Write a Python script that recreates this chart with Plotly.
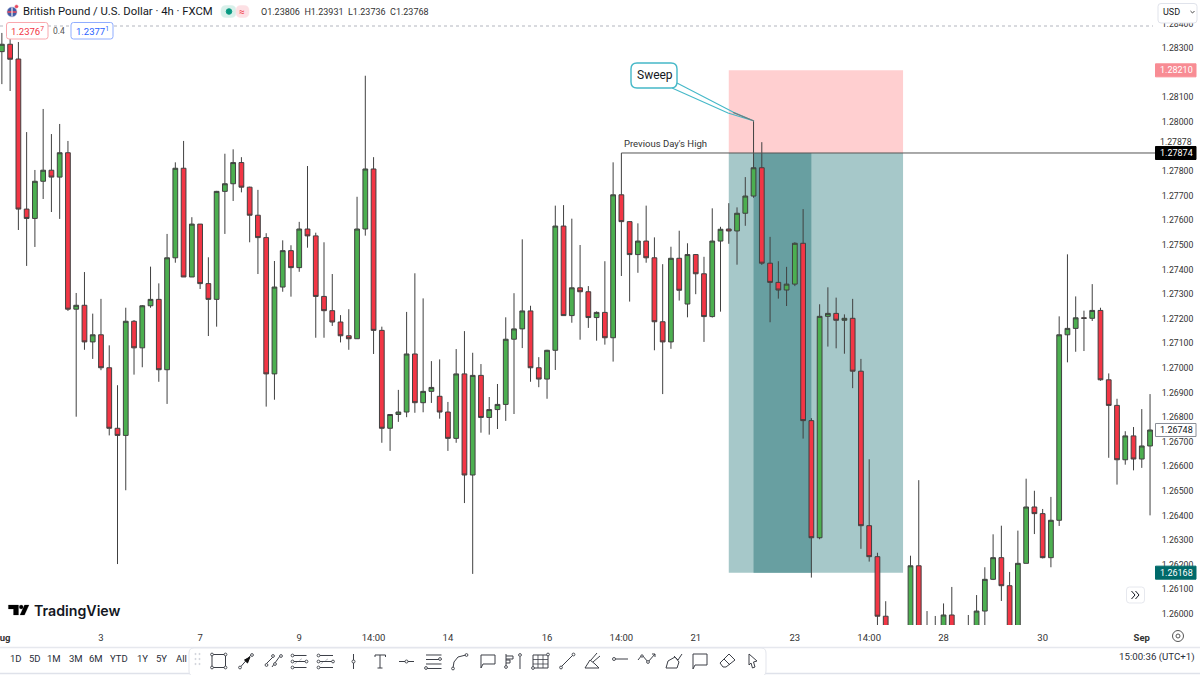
import plotly.graph_objects as go

# Prices in points (1 point = 0.00001)
SCALE = 1e-5
open_pts = [128286,128316,128256,127646,127608,127759,127804,127776,127875,127239,127255,127106,127135,127001,126755,126726,127190,127082,127253,127279,
126993,127448,127812,127370,127585,127343,127279,127718,127749,127835,127735,127621,127530,126976,127329,127477,127408,127565,127537,127291,
127233,127187,127131,127119,127565,127809,127153,126755,126811,126821,127057,126859,126905,126885,126821,126714,126976,126565,126970,126799,
126831,126852,127117,127159,127232,127001,126955,127072,127577,127213,127326,127310,127205,127226,127123,127704,127595,127461,127516,127448,
127188,127106,127446,127260,127461,127383,127209,127516,127565,127557,127629,127699,127814,127426,127348,127317,127341,127507,126786,126310,
127210,127222,127194,127202,126987,126359,126233,125991,125900,125880,125870,126196,125880,125870,125900,125996,125890,125900,125910,126012,
126141,126229,126115,125900,126206,126435,126408,126229,126381,127135,127161,127204,127202,127234,126952,126848,126627,126724,126630,126683]
high_pts = [128362,128337,128325,127959,127805,128053,127951,127992,127923,127305,127390,127221,127281,127092,126930,127245,127195,127256,127412,127344,
127545,127836,127923,127613,127585,127450,127720,127871,127889,127857,127737,127724,127548,127435,127519,127499,127594,127821,127550,127511,
127382,127215,127239,127696,128188,127857,127168,126813,126911,127228,127385,127283,127028,127035,126862,127077,127150,127062,127016,126882,
126935,127206,127304,127523,127253,127044,127074,127660,127662,127607,127500,127333,127230,127434,127836,127874,127597,127588,127660,127531,
127422,127493,127558,127507,127463,127452,127649,127574,127670,127653,127776,128004,127918,127533,127434,127411,127511,127646,126796,127259,
127328,127286,127218,127281,127037,126629,126249,126052,125930,125940,126237,126544,126012,125992,126043,126110,125930,125996,126077,126190,
126324,126359,126171,126339,126550,126501,126427,126476,127210,127462,127291,127233,127341,127245,126978,126875,126743,126760,126833,126894]
low_pts = [128154,128126,127561,127415,127492,127687,127634,127606,127232,126802,127074,127037,126991,126726,126203,126503,126973,127003,127245,126944,
126854,127428,127370,127370,127321,127130,127168,127545,127679,127714,127511,127382,126843,126871,127310,127290,127391,127489,127123,127123,
127171,127104,127074,127119,127538,127057,126696,126663,126781,126800,126818,126820,126858,126794,126663,126696,126451,126163,126737,126729,
126752,126785,126813,127081,126944,126922,126875,126992,127213,127184,127115,127163,127111,127095,127026,127374,127270,127387,127428,127072,
126894,127078,127274,127206,127300,127106,127205,127229,127505,127420,127578,127692,127419,127186,127282,127252,127333,126713,126148,126304,
127087,127080,127058,126918,126265,126213,125900,125850,125850,125840,125850,125850,125840,125840,125860,125860,125860,125860,125880,125900,
126138,126053,125880,125880,126206,126325,126226,126190,126358,127023,127066,127069,127191,126948,126635,126526,126607,126584,126594,126401]
close_pts = [128316,128255,127646,127608,127759,127804,127776,127875,127239,127255,127106,127135,127001,126755,126726,127190,127082,127253,127279,126993,
127448,127812,127370,127585,127343,127279,127718,127749,127835,127735,127621,127530,126976,127329,127477,127408,127565,127537,127291,127233,
127187,127131,127119,127565,127809,127153,126755,126811,126821,127057,126859,126905,126921,126821,126714,126976,126565,126970,126799,126831,
126852,127117,127159,127232,127001,126955,127072,127577,127213,127326,127310,127205,127226,127123,127704,127595,127461,127516,127448,127188,
127106,127446,127316,127461,127383,127209,127516,127564,127557,127629,127699,127814,127426,127348,127317,127341,127507,126786,126310,127210,
127222,127194,127202,126987,126359,126233,125991,125900,125880,125870,126196,125880,125870,125900,125996,125890,125900,125910,126012,126141,
126229,126115,125900,126206,126435,126408,126229,126381,127135,127161,127204,127202,127234,126952,126848,126627,126724,126630,126683,126748]

time_tick_idx = [0,12,24,36,45,54,66,75,84,96,105,114,126,138]
time_tick_txt = ["<b>Aug</b>","3","7","9","14:00","14","16","14:00","21","23","14:00","28","30","<b>Sep</b>"]
price_ticks = [1.26,1.261,1.262,1.263,1.264,1.265,1.266,1.267,1.268,1.269,1.27,1.271,1.272,1.273,1.274,1.275,1.276,1.277,1.278,1.28,1.281,1.283,1.284]
stop_price, entry_price, target_price, last_price = 1.28210, 1.27874, 1.26168, 1.26748
range_buttons = ["1D","5D","1M","3M","6M","YTD","1Y","5Y","All"]
range_button_x = [16,35,54,76,96,119,142,161,181]

O=[v*SCALE for v in open_pts]; H=[v*SCALE for v in high_pts]
L_=[v*SCALE for v in low_pts]; C_=[v*SCALE for v in close_pts]
X=list(range(len(C_)))

W,HT=1200,675
fx=lambda x:x/W
fy=lambda y:1-y/HT
FONT="Roboto"
TXT="#2a2e39"
ICON="#3c3f47"
shapes=[]; ann=[]

def poly(pts,color=ICON,w=1,fill=None,close=False,layer="above",dash=None):
    d="M"+" L".join(f"{fx(x):.5f},{fy(y):.5f}" for x,y in pts)+(" Z" if close else "")
    ln=dict(color=color,width=w)
    if dash: ln["dash"]=dash
    s=dict(type="path",xref="paper",yref="paper",path=d,line=ln,layer=layer)
    if fill: s["fillcolor"]=fill
    shapes.append(s)

def rrect(x0,y0,x1,y1,r,line="#e0e3eb",fill="white",w=1,layer="above"):
    p=lambda x,y:f"{fx(x):.5f},{fy(y):.5f}"
    d=(f"M{p(x0+r,y0)} L{p(x1-r,y0)} Q{p(x1,y0)} {p(x1,y0+r)} L{p(x1,y1-r)} Q{p(x1,y1)} {p(x1-r,y1)} "
       f"L{p(x0+r,y1)} Q{p(x0,y1)} {p(x0,y1-r)} L{p(x0,y0+r)} Q{p(x0,y0)} {p(x0+r,y0)} Z")
    shapes.append(dict(type="path",xref="paper",yref="paper",path=d,fillcolor=fill,line=dict(color=line,width=w),layer=layer))

def circ(x,y,r,line=ICON,fill="white",w=0.9):
    shapes.append(dict(type="circle",xref="paper",yref="paper",x0=fx(x-r),x1=fx(x+r),y0=fy(y+r),y1=fy(y-r),
                       fillcolor=fill,line=dict(color=line,width=w),layer="above"))

def text(x,y,s,size=10,color=TXT,anchor="center",family=FONT,**kw):
    ann.append(dict(xref="paper",yref="paper",x=fx(x),y=fy(y),text=s,showarrow=False,xanchor=anchor,yanchor="middle",
                    font=dict(family=family,size=size,color=color),**kw))

# Trade zones (drawn under the candles)
shapes += [
 dict(type="rect",xref="x",yref="y",x0=88,x1=109.1,y0=entry_price,y1=stop_price,fillcolor="#FFCFD0",line=dict(width=0),layer="below"),
 dict(type="rect",xref="x",yref="y",x0=88,x1=109.1,y0=target_price,y1=entry_price,fillcolor="#A6C8C9",line=dict(width=0),layer="below"),
 dict(type="rect",xref="x",yref="y",x0=91,x1=98,y0=target_price,y1=entry_price,fillcolor="#689FA1",line=dict(width=0),layer="below"),
 dict(type="line",xref="x",yref="y",x0=75,x1=139.6,y0=entry_price,y1=entry_price,line=dict(color="#555555",width=1),layer="above"),
]

# Sweep callout
poly([(677,83),(733,112),(754,121),(728,113),(672,88)],color="#45B8C8",w=1.1)
poly([(733,112.5),(754,121)],color="#777777",w=1.1)
rrect(631,63,677,88,6,line="#45B8C8",fill="white",w=1.4)
text(654.5,75,"Sweep",size=12,color="#131722")
ann.append(dict(xref="x",yref="y",x=75.1,y=entry_price,yshift=9,text="Previous Day's High",showarrow=False,xanchor="left",
                font=dict(family=FONT,size=9.5,color="#333333")))

# Header
poly([(0,26),(1153,26)],color="#b2b5be",w=1,dash="dot")
circ(12,12,5,line="#c8cbe0",fill="#3f5aa6",w=0.6)
poly([(7.5,12),(16.5,12)],color="#e84a5f",w=1.6)
poly([(12,7.5),(12,16.5)],color="#f4f4f4",w=1.2)
circ(16.5,6.5,1.6,line="#e84a5f",fill="#e84a5f",w=0.4)
text(20.5,11.5,"British Pound / U.S. Dollar · 4h · FXCM",size=11.3,color="#131722",anchor="left")
rrect(221,5.5,236,17.5,5,line="#d8f0ea",fill="#d8f0ea",w=0.5)
rrect(236,5.5,249,17.5,5,line="#fde0e4",fill="#fde0e4",w=0.5)
circ(229,11.5,2.8,line="#089981",fill="#089981")
text(242,11.5,"≈",size=10,color="#f23645")
text(258.5,11.5,"O1.23806  H1.23931  L1.23736  C1.23768",size=9,color="#333333",anchor="left")
rrect(6.5,22.5,48,39,2.5,line="#f9a8ae",fill="white")
text(27,31,"1.2376<sup>7</sup>",size=9.5,color="#f23645")
text(59,31,"0.4",size=8.5,color="#555555")
rrect(71,22.5,113,39,2.5,line="#8fadff",fill="white")
text(92,31,"1.2377<sup>1</sup>",size=9.5,color="#2962ff")

# Price scale
rrect(1158,3.5,1197,23,3,line="#e0e3eb",fill="white")
text(1161,12,"USD",size=9,color="#131722",anchor="left")
poly([(1190.5,11),(1192.5,13),(1194.5,11)],color="#333333",w=0.9)
def price_box(p,bg,fg,border=None):
    shapes.append(dict(type="rect",xref="paper",yref="y",ysizemode="pixel",yanchor=p,x0=fx(1155.5),x1=fx(1196),y0=-6.5,y1=6.5,
                       fillcolor=bg,line=dict(color=border or bg,width=1),layer="above"))
    ann.append(dict(xref="paper",yref="y",x=fx(1176),y=p,text=f"{p:.5f}",showarrow=False,xanchor="center",yanchor="middle",
                    font=dict(family=FONT,size=9,color=fg)))
price_box(stop_price,"#F88C94","white")
ann.append(dict(xref="paper",yref="y",x=fx(1176),y=1.27878,yshift=10,text="1.27878",showarrow=False,xanchor="center",
                font=dict(family=FONT,size=8.7,color="#333333")))
price_box(entry_price,"#000000","white")
price_box(last_price,"white","#131722",border="#8a8e97")
price_box(target_price,"#006A6A","white")

# TradingView mark
poly([(8.4,605),(18.5,605),(18.5,615),(13.5,615),(13.5,609),(8.4,609)],color="#000",w=0.2,fill="#000",close=True)
circ(21.2,607,2,line="#000",fill="#000",w=0.2)
poly([(24.5,605),(29,605),(24.5,615),(20,615)],color="#000",w=0.2,fill="#000",close=True)
ann.append(dict(xref="paper",yref="paper",x=fx(32),y=fy(610.5),text="TradingView",showarrow=False,xanchor="left",yanchor="middle",
                font=dict(family="Inter",size=14.2,color="#131722",weight=600)))

# Scroll button and settings glyph
rrect(1126.5,587,1144.5,603,3,line="#e6e8ee",fill="white")
poly([(1131.5,591),(1135,595),(1131.5,599)],color="#131722",w=1)
poly([(1135.5,591),(1139,595),(1135.5,599)],color="#131722",w=1)
circ(1178,636,5.5,line="#555",w=1)
circ(1178,636,2,line="#555",w=1)

# Bottom strip
poly([(0,647.5),(1200,647.5)],color="#e6e8ee",w=1.5)
poly([(0,673.5),(1200,673.5)],color="#dfe2ea",w=1.5)
for lab,x in zip(range_buttons,range_button_x):
    text(x,658,lab,size=9.5,color="#2a2e39")
text(1197,657,"15:00:36 (UTC+1)",size=9.7,color="#2a2e39",anchor="right")

# Drawing toolbar
rrect(189,648,766,676,5,line="#e3e5ec",fill="white")
for dx in (195.5,199.5):
    for dy in (654,659,664):
        circ(dx,dy,0.8,line="#c4c7d0",fill="#c4c7d0",w=0.2)
poly([(212,654.5),(225.5,654.5),(225.5,667.5),(212,667.5)],close=True)
for p in [(212,654.5),(225.5,654.5),(225.5,667.5),(212,667.5)]: circ(*p,1.4)
poly([(240,667.5),(251,655)]); poly([(250,657),(244.5,660),(247.5,663)],color="#111",fill="#111",close=True)
circ(240,667.5,1.4); circ(252,655,1.4)
poly([(266,664),(273,657)]); poly([(272,667),(280,656)])
circ(266.5,665,1.4); circ(273,656,1.4); circ(275,664,1.4); circ(281,656,1.4)
for x0,x1 in ((291.5,306.5),(317.5,333)):
    for yy in (655.5,661.5,667.5):
        poly([(x0+2,yy),(x1,yy)])
        circ(x0+1,yy,1.4)
    circ(x1,661.5,1.4)
    poly([(x0+3,664),(x1-3,657.5)],color="#9a9da5",w=0.7,dash="dot")
poly([(353.5,654),(353.5,669)]); circ(353.5,661.5,1.5)
poly([(375,657),(375,655),(385.5,655),(385.5,657)]); poly([(380,655),(380,668)]); poly([(377.5,668),(382.5,668)])
poly([(399,661.5),(414,661.5)]); circ(406.5,661.5,1.5)
for yy in (655,659.5,664,668.5):
    poly([(426,yy),(441.5,yy)])
circ(440,659,1.4); circ(426,668,1.4)
poly([(453,668),(454,662),(458,657),(466,655)]); circ(453,668.5,1.4); circ(466.5,655,1.4)
poly([(481,655),(495,655),(495,664),(483,664),(481,668),(481,655)])
poly([(506,654),(506,668)]); poly([(506,656),(513,656),(513,659),(506,659)]); poly([(506,660),(510,660),(510,663),(506,663)])
circ(506,667,1.4); poly([(520,657),(520,669)]); circ(520,655,1.4)
poly([(533,655),(548,655),(548,668),(533,668)],close=True)
for gx in (538,543): poly([(gx,655),(gx,668)],w=0.8)
for gy in (659.5,664): poly([(533,gy),(548,gy)],w=0.8)
circ(533,668,1.4); circ(548,654.5,1.4)
poly([(561,667),(573,655)]); circ(561,667.5,1.4); circ(573.5,654.5,1.4)
poly([(585,668),(590,660),(595,664),(599,668),(585,668)]); poly([(591,660),(597,653)]); poly([(593,662),(600,656)])
poly([(615,659),(628,659)]); circ(614,659,1.5)
poly([(638,660),(642,655),(648,662),(655,654)]); poly([(652,654),(655,654),(655,657)]); circ(642,656,1.2); circ(648,662,1.4)
poly([(666,668),(668,661),(675,657),(679,662),(677,668),(666,668)]); poly([(674,656),(678,660),(682,654)])
poly([(693,654),(707,654),(707,665),(695,665),(693,669),(693,654)])
poly([(720,663),(729,654),(735,660),(726,667),(723,667),(720,663)]); poly([(724,659),(730,665)])
poly([(749,654),(757,661),(753.5,662),(755,667),(752.5,668),(751,663),(749,665),(749,654)])

fig=go.Figure(go.Candlestick(
    x=X,open=O,high=H,low=L_,close=C_,
    increasing=dict(fillcolor="#4CAF50",line=dict(color="#404040",width=1)),
    decreasing=dict(fillcolor="#F23645",line=dict(color="#404040",width=1)),
    whiskerwidth=0,showlegend=False,hoverinfo="skip"))

fig.update_layout(
    width=W,height=HT,margin=dict(l=0,r=0,t=0,b=0,autoexpand=False),autosize=False,
    paper_bgcolor="white",plot_bgcolor="white",showlegend=False,boxgap=0.18,hovermode=False,dragmode=False,
    font=dict(family=FONT,color="#333333"),
    shapes=shapes,annotations=ann,
    xaxis=dict(domain=[0,1155/W],range=[-0.225,139.6],type="linear",rangeslider=dict(visible=False),automargin=False,
               showgrid=False,zeroline=False,showline=False,tickmode="array",tickvals=time_tick_idx,ticktext=time_tick_txt,
               ticks="outside",ticklen=4,tickcolor="white",ticklabeloverflow="allow",tickfont=dict(size=9.5,color="#333333",family=FONT),tickangle=0),
    yaxis=dict(domain=[fy(625),fy(20)],range=[1.259553,1.284146],side="right",showgrid=False,zeroline=False,showline=False,automargin=False,
               tickmode="array",tickvals=price_ticks,ticktext=[f"{v:.5f}" for v in price_ticks],
               ticks="outside",ticklen=4,tickcolor="white",ticklabeloverflow="allow",tickfont=dict(size=8.7,color="#333333",family=FONT)),
)
fig.write_html("out.html", post_script="document.body.style.margin='0';", config={"displayModeBar":False})
